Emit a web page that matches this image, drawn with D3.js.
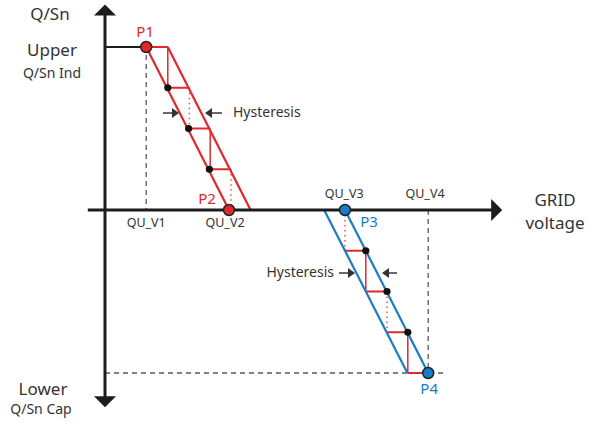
<!DOCTYPE html>
<html>
<head>
<meta charset="utf-8">
<script src="https://cdn.jsdelivr.net/npm/d3@7/dist/d3.min.js"></script>
<style>
  body { margin: 0; background: #fff; }
  text { font-family: "Noto Sans", sans-serif; fill: #333; }
</style>
</head>
<body>
<svg width="589" height="422"></svg>
<script>
// Q/Sn levels of the steps (top to bottom) and voltage of the main curve at each level
var redLevels = [1, 0.75, 0.5, 0.25, 0];
var redMain = [10.3, 15.7, 20.9, 26.1, 31.0];
var redHyst = 5.4;
var redVertStyle = ["solid", "dotted", "solid", "dotted"];

var blueLevels = [0, -0.25, -0.5, -0.75, -1];
var blueMain = [60.0, 65.2, 70.5, 75.7, 80.8];
var blueHyst = 5.2;
var blueVertStyle = ["dotted", "solid", "dotted", "solid"];

var voltTicks = [
  { name: "QU_V1", v: 10.3, above: false },
  { name: "QU_V2", v: 30.0, above: false },
  { name: "QU_V3", v: 59.8, above: true },
  { name: "QU_V4", v: 80.0, above: true }
];

// axis extents (data units)
var xAxisFrom = -4.3, xAxisTo = 99.3;
var yAxisTop = 1.26, yAxisBottom = -1.21;
var lowerGuideEnd = 84.5;

var RED = "#e2272b", BLUE = "#1b7cc4", AXIS = "#1c1c1c", GUIDE = "#5a5a5a";

var svg = d3.select("svg");
var x = d3.scaleLinear().domain([0, 100]).range([105, 505]);
var y = d3.scaleLinear().domain([-1, 1]).range([373, 47]);

function seg(g, x1, y1, x2, y2) {
  return g.append("line").attr("x1", x1).attr("y1", y1).attr("x2", x2).attr("y2", y2);
}

// dashed guides
var guides = svg.append("g").attr("stroke", GUIDE).attr("stroke-width", 1.3)
  .attr("stroke-dasharray", "5,4").attr("fill", "none");
seg(guides, x(redMain[0]), y(1) + 8, x(redMain[0]), y(0));
seg(guides, x(blueMain[4]), y(0), x(blueMain[4]), y(-1));
seg(guides, x(0), y(-1), x(lowerGuideEnd), y(-1));

// upper plateau
seg(svg, x(0), y(1), x(redMain[0]), y(1)).attr("stroke", AXIS).attr("stroke-width", 2);

// steps (red for both sides)
function drawSteps(levels, main, hyst, styles, side) {
  var g = svg.append("g").attr("stroke", RED).attr("fill", "none");
  levels.forEach(function(q, i) {
    var xl = side === "red" ? main[i] : main[i] - hyst;
    var xr = side === "red" ? main[i] + hyst : main[i];
    if (q !== 0) seg(g, x(xl), y(q), x(xr), y(q)).attr("stroke-width", 2);
    if (i < levels.length - 1) {
      var xv = side === "red" ? main[i] + hyst : main[i];
      var l = seg(g, x(xv), y(q), x(xv), y(levels[i + 1]));
      if (styles[i] === "dotted") {
        l.attr("stroke-width", 1.4).attr("stroke-dasharray", "1.4,3.6").attr("stroke-opacity", 0.85);
      } else {
        l.attr("stroke-width", 1.5);
      }
    }
  });
}
drawSteps(redLevels, redMain, redHyst, redVertStyle, "red");
drawSteps(blueLevels, blueMain, blueHyst, blueVertStyle, "blue");

// the two slanted curves of each characteristic
var line = d3.line().x(function(d) { return x(d[0]); }).y(function(d) { return y(d[1]); });
var n = redLevels.length - 1;
svg.append("path").attr("d", line([[redMain[0], redLevels[0]], [redMain[n], redLevels[n]]]))
  .attr("stroke", RED).attr("stroke-width", 2.2).attr("fill", "none");
svg.append("path").attr("d", line([[redMain[0] + redHyst, redLevels[0]], [redMain[n] + redHyst, redLevels[n]]]))
  .attr("stroke", RED).attr("stroke-width", 2.2).attr("fill", "none");
svg.append("path").attr("d", line([[blueMain[0], blueLevels[0]], [blueMain[n], blueLevels[n]]]))
  .attr("stroke", BLUE).attr("stroke-width", 2.2).attr("fill", "none");
svg.append("path").attr("d", line([[blueMain[0] - blueHyst, blueLevels[0]], [blueMain[n] - blueHyst, blueLevels[n]]]))
  .attr("stroke", BLUE).attr("stroke-width", 2.2).attr("fill", "none");

// axes with arrow heads
var axes = svg.append("g");
seg(axes, x(xAxisFrom), y(0), x(xAxisTo) - 10, y(0)).attr("stroke", AXIS).attr("stroke-width", 3);
seg(axes, x(0), y(yAxisTop) + 10, x(0), y(yAxisBottom) - 9).attr("stroke", AXIS).attr("stroke-width", 3);
function head(tx, ty, dir) {
  var L = 11, W = 11, p;
  if (dir === "up") p = [[tx, ty], [tx - W, ty + L], [tx + W, ty + L]];
  else if (dir === "down") p = [[tx, ty], [tx - W, ty - L], [tx + W, ty - L]];
  else p = [[tx, ty], [tx - L, ty - W], [tx - L, ty + W]];
  axes.append("path").attr("d", "M" + p.join("L") + "Z").attr("fill", AXIS);
}
head(x(0), y(yAxisTop), "up");
head(x(0), y(yAxisBottom), "down");
head(x(xAxisTo), y(0), "right");

// black step dots
var dots = [];
for (var i = 1; i < n; i++) {
  dots.push([redMain[i], redLevels[i]]);
  dots.push([blueMain[i], blueLevels[i]]);
}
svg.selectAll(".dot").data(dots).enter().append("circle")
  .attr("cx", function(d) { return x(d[0]); })
  .attr("cy", function(d) { return y(d[1]); })
  .attr("r", 3.6).attr("fill", "#111");

// named points
var points = [
  { name: "P1", v: redMain[0], q: redLevels[0], c: RED, dx: -1, dy: -10 },
  { name: "P2", v: redMain[n], q: redLevels[n], c: RED, dx: -22, dy: -6 },
  { name: "P3", v: blueMain[0], q: blueLevels[0], c: BLUE, dx: 24, dy: 17 },
  { name: "P4", v: blueMain[n], q: blueLevels[n], c: BLUE, dx: 1, dy: 21 }
];
svg.selectAll(".pt").data(points).enter().append("circle")
  .attr("cx", function(d) { return x(d.v); })
  .attr("cy", function(d) { return y(d.q); })
  .attr("r", 5.5).attr("fill", function(d) { return d.c; })
  .attr("stroke", "#222").attr("stroke-width", 1.5);
svg.selectAll(".ptl").data(points).enter().append("text")
  .attr("x", function(d) { return x(d.v) + d.dx; })
  .attr("y", function(d) { return y(d.q) + d.dy; })
  .attr("text-anchor", "middle").attr("font-size", 15)
  .style("fill", function(d) { return d.c; })
  .text(function(d) { return d.name; });

// voltage tick labels
svg.selectAll(".vt").data(voltTicks).enter().append("text")
  .attr("x", function(d) { return x(d.v); })
  .attr("y", function(d) { return d.above ? y(0) - 12 : y(0) + 17; })
  .attr("text-anchor", "middle").attr("font-size", 12.5)
  .text(function(d) { return d.name; });

// axis titles
var titles = [
  ["Q/Sn", 50, 20, 17], ["Upper", 52, 56, 17], ["Q/Sn Ind", 52, 78, 14],
  ["Lower", 43, 395, 17], ["Q/Sn Cap", 41, 414, 14],
  ["GRID", 555, 206, 17], ["voltage", 555, 229, 17]
];
svg.selectAll(".ttl").data(titles).enter().append("text")
  .attr("x", function(d) { return d[1]; }).attr("y", function(d) { return d[2]; })
  .attr("font-size", function(d) { return d[3]; })
  .attr("text-anchor", "middle")
  .text(function(d) { return d[0]; });

// hysteresis annotations
function hystArrow(tip, from, yy) {
  var dir = tip > from ? 1 : -1;
  seg(svg, from, yy, tip - dir * 6, yy).attr("stroke", "#444").attr("stroke-width", 1.6);
  svg.append("path").attr("d", "M" + tip + "," + yy + "L" + (tip - dir * 7) + "," + (yy - 5) +
    "L" + (tip - dir * 7) + "," + (yy + 5) + "Z").attr("fill", "#333");
}
hystArrow(179, 163, 113);
hystArrow(205, 222, 113);
svg.append("text").attr("x", 233).attr("y", 117).attr("font-size", 14).text("Hysteresis");
hystArrow(355, 339, 273);
hystArrow(382, 397, 273);
svg.append("text").attr("x", 334).attr("y", 277).attr("font-size", 14)
  .attr("text-anchor", "end").text("Hysteresis");
</script>
</body>
</html>
